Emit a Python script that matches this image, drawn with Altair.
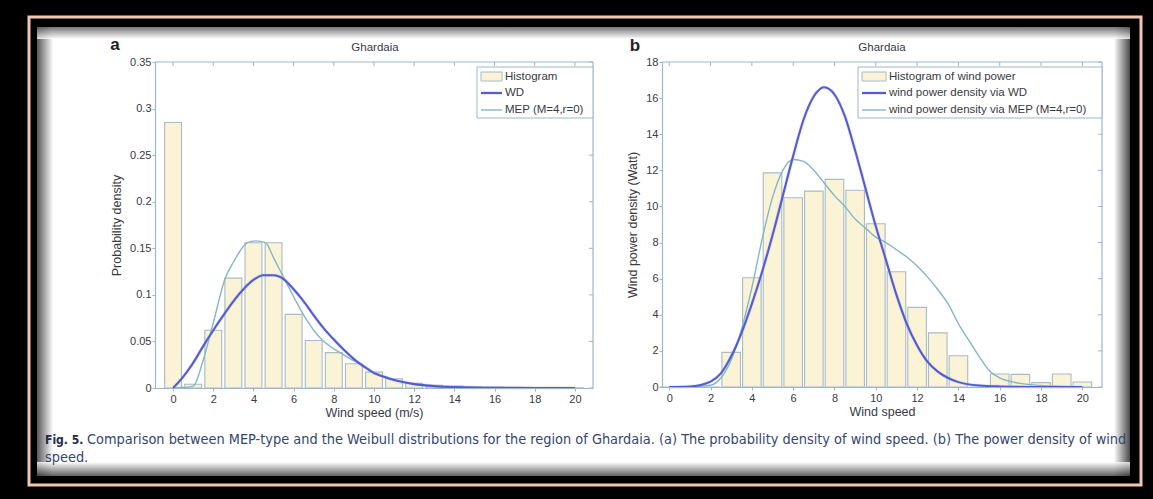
import altair as alt
import pandas as pd

W, H = 1153, 499

# ---------------- data ----------------
bins = list(range(0, 21))

# (a) probability density of wind speed
hist_a = [0.285, 0.004, 0.062, 0.118, 0.156, 0.156, 0.079, 0.051, 0.038, 0.026,
          0.017, 0.010, 0.005, 0.003, 0.002, 0.001, 0.001, 0.0005, 0.0005, 0.0003, 0.0002]

wd_a_x = [0, 0.5, 1, 1.5, 2, 2.5, 3, 3.5, 4, 4.5, 5, 5.5, 6, 6.5, 7, 7.5, 8, 8.5, 9, 9.5,
          10, 10.5, 11, 12, 13, 14, 15, 16, 18, 20]
wd_a_y = [0, 0.012, 0.027, 0.045, 0.062, 0.078, 0.093, 0.106, 0.116, 0.121, 0.121, 0.117,
          0.106, 0.093, 0.078, 0.064, 0.052, 0.041, 0.031, 0.023, 0.016, 0.012, 0.0085,
          0.0042, 0.002, 0.001, 0.0004, 0.0002, 0.00005, 0]

mep_a_x = [0, 0.5, 1.0, 1.5, 2.0, 2.6, 3.0, 3.7, 4.1, 4.6, 5.0, 5.4, 6.0, 6.4, 7.0, 7.4,
           8.0, 8.4, 9.0, 9.4, 10, 11, 12, 13, 14, 16, 18, 20]
mep_a_y = [0, 0.0005, 0.002, 0.03, 0.07, 0.118, 0.135, 0.156, 0.158, 0.156, 0.14, 0.123,
           0.098, 0.082, 0.062, 0.052, 0.042, 0.037, 0.029, 0.025, 0.017, 0.009, 0.004,
           0.002, 0.001, 0.0003, 0.0001, 0]

# (b) wind power density
hist_b = [0, 0, 0, 1.92, 6.05, 11.86, 10.48, 10.85, 11.5, 10.9, 9.04, 6.38, 4.41, 3.0,
          1.73, 0, 0.72, 0.70, 0.24, 0.72, 0.28]

wd_b_x = [0, 1, 2, 2.5, 3, 3.5, 4, 4.5, 5, 5.5, 6, 6.5, 7, 7.5, 8, 8.5, 9, 9.5, 10, 10.5,
          11, 11.5, 12, 12.5, 13, 13.5, 14, 15, 16, 18, 20]
wd_b_y = [0, 0.03, 0.3, 0.75, 1.7, 3.0, 4.6, 6.4, 8.4, 10.6, 12.8, 14.8, 16.1, 16.6, 16.2,
          15.0, 13.1, 11.0, 8.9, 7.0, 5.1, 3.5, 2.3, 1.4, 0.85, 0.5, 0.27, 0.08, 0.03, 0.0, 0]

mep_b_x = [0, 1, 2, 2.5, 3, 3.5, 4, 4.5, 5, 5.5, 6, 6.5, 7, 7.5, 8, 8.5, 9, 9.5, 10, 10.5,
           11, 11.5, 12, 12.5, 13, 13.5, 14, 14.5, 15, 15.5, 16, 17, 18, 19, 20]
mep_b_y = [0, 0.01, 0.1, 0.5, 1.5, 3.2, 5.5, 8.2, 10.5, 12.0, 12.6, 12.5, 12.0, 11.3, 10.6,
           10.0, 9.3, 8.8, 8.3, 8.0, 7.6, 7.2, 6.7, 6.1, 5.4, 4.6, 3.5, 2.6, 1.7, 0.9, 0.5,
           0.2, 0.08, 0.03, 0]

ticks_x = list(range(0, 21, 2))
ticks_ya = [0, 0.05, 0.1, 0.15, 0.2, 0.25, 0.3, 0.35]
ticks_yb = [0, 2, 4, 6, 8, 10, 12, 14, 16, 18]

legend_a = ["Histogram", "WD", "MEP (M=4,r=0)"]
legend_b = ["Histogram of wind power", "wind power density via WD",
            "wind power density via MEP (M=4,r=0)"]
panel_title = "Ghardaia"
caption_bold = "Fig. 5."
caption_1 = ("Comparison between MEP-type and the Weibull distributions for the region of "
             "Ghardaia. (a) The probability density of wind speed. (b) The power density of wind")
caption_2 = "speed."

# ---------------- styles ----------------
FONT = "Liberation Sans"
CAPFONT = "DejaVu Sans Condensed, Liberation Sans, sans-serif"
TXT = "#3a3a44"
AXC = "#9db6c9"
BAR_FILL = "#fbf3d6"
BAR_EDGE = "#a6bcc6"
BLUE = "#4a5fd8"
PINK = "#e9a6bb"
TEAL = "#86b6c6"


def hist_df(vals, half):
    d = pd.DataFrame({"c": bins, "v": vals})
    d["lo"] = d["c"] - half
    d["hi"] = d["c"] + half
    return d


df_ha = hist_df(hist_a, 0.42)
df_hb = hist_df(hist_b, 0.45)
df_wa = pd.DataFrame({"x": wd_a_x, "y": wd_a_y})
df_ma = pd.DataFrame({"x": mep_a_x, "y": mep_a_y})
df_wb = pd.DataFrame({"x": wd_b_x, "y": wd_b_y})
df_mb = pd.DataFrame({"x": mep_b_x, "y": mep_b_y})

one = pd.DataFrame({"k": [0]})

XA = alt.Scale(domain=[-0.9, 20.9], range=[155, 593], nice=False, zero=False)
YA = alt.Scale(domain=[0, 0.35], range=[388, 62], nice=False, zero=False)
XB = alt.Scale(domain=[-0.35, 20.95], range=[662, 1102], nice=False, zero=False)
YB = alt.Scale(domain=[0, 18], range=[387, 62], nice=False, zero=False)

common_axis = dict(grid=False, zindex=1, domainColor=AXC, domainWidth=1.2, tickColor=AXC,
                   tickSize=3, labelFont=FONT, labelFontSize=11, labelColor=TXT,
                   titleFont=FONT, titleFontSize=12.5, titleFontWeight="normal",
                   titleColor=TXT, labelFlush=False, labelOverlap=False)

AX_XA = alt.Axis(orient="bottom", offset=388 - H, values=ticks_x, title="Wind speed (m/s)",
                 labelPadding=2, titlePadding=2, **common_axis)
AX_YA = alt.Axis(orient="left", offset=-155, values=ticks_ya, format="~g",
                 title="Probability density", labelPadding=1, titlePadding=6, **common_axis)
AX_XB = alt.Axis(orient="bottom", offset=387 - H, values=ticks_x, title="Wind speed",
                 labelPadding=2, titlePadding=2, **common_axis)
AX_YB = alt.Axis(orient="left", offset=-662, values=ticks_yb, format="~g",
                 title="Wind power density (Watt)", labelPadding=1, titlePadding=6,
                 **common_axis)


def panel(df_h, df_w, df_m, XS, YS, AXX, AXY, tx, ty, top, right):
    bars = alt.Chart(df_h).mark_rect(fill=BAR_FILL, stroke=BAR_EDGE, strokeWidth=1.1).encode(
        x=alt.X("lo:Q", scale=XS, axis=AXX), x2="hi:Q",
        y=alt.Y("v:Q", scale=YS, axis=AXY), y2=alt.datum(0))
    halo = alt.Chart(df_w).mark_line(color=PINK, strokeWidth=3.6, opacity=0.3,
                                     interpolate="monotone").encode(
        x=alt.X("x:Q", scale=XS, axis=AXX), y=alt.Y("y:Q", scale=YS, axis=AXY))
    wd = alt.Chart(df_w).mark_line(color=BLUE, strokeWidth=2.1,
                                   interpolate="monotone").encode(
        x=alt.X("x:Q", scale=XS, axis=AXX), y=alt.Y("y:Q", scale=YS, axis=AXY))
    mep = alt.Chart(df_m).mark_line(color=TEAL, strokeWidth=1.4,
                                    interpolate="monotone").encode(
        x=alt.X("x:Q", scale=XS, axis=AXX), y=alt.Y("y:Q", scale=YS, axis=AXY))
    # mirrored (inward) ticks on top and right edges of the box
    top_ticks = alt.Chart(pd.DataFrame({"t": tx})).mark_rule(color=AXC, strokeWidth=1).encode(
        x=alt.X("t:Q", scale=XS, axis=AXX), y=alt.value(top), y2=alt.value(top + 4))
    right_ticks = alt.Chart(pd.DataFrame({"t": ty})).mark_rule(color=AXC, strokeWidth=1).encode(
        y=alt.Y("t:Q", scale=YS, axis=AXY), x=alt.value(right - 4), x2=alt.value(right))
    return alt.layer(bars, mep, halo, wd, top_ticks, right_ticks)


def rect(x, x2, y, y2, **kw):
    return alt.Chart(one).mark_rect(**kw).encode(
        x=alt.value(x), x2=alt.value(x2), y=alt.value(y), y2=alt.value(y2))


def hline(x, x2, y, color, width, opacity=1.0):
    return alt.Chart(one).mark_rule(color=color, strokeWidth=width, opacity=opacity).encode(
        x=alt.value(x), x2=alt.value(x2), y=alt.value(y))


def vline(x, y, y2, color, width):
    return alt.Chart(one).mark_rule(color=color, strokeWidth=width).encode(
        x=alt.value(x), y=alt.value(y), y2=alt.value(y2))


def text(s, x, y, size=10, weight="normal", align="left", color=TXT, font=FONT):
    return alt.Chart(one).mark_text(text=s, fontSize=size, fontWeight=weight, align=align,
                                    baseline="middle", color=color, font=font).encode(
        x=alt.value(x), y=alt.value(y))


def grad(c1, c2, horizontal=True):
    if horizontal:
        return alt.LinearGradient(gradient="linear", x1=0, x2=1, y1=0, y2=0,
                                  stops=[alt.GradientStop(color=c1, offset=0),
                                         alt.GradientStop(color=c2, offset=1)])
    return alt.LinearGradient(gradient="linear", x1=0, x2=0, y1=0, y2=1,
                              stops=[alt.GradientStop(color=c1, offset=0),
                                     alt.GradientStop(color=c2, offset=1)])


PX0, PX1, PY0, PY1 = 37, 1130, 27, 476

paper = rect(PX0, PX1, PY0, PY1, fill="white")

shadows = [
    rect(PX0, PX0 + 16, PY0, PY1, fill=grad("#3a3a3a", "#ffffff"), opacity=0.85),
    rect(PX1 - 16, PX1, PY0, PY1, fill=grad("#ffffff", "#2a2a2a"), opacity=0.85),
    rect(PX0, PX1, PY0, PY0 + 12, fill=grad("#555555", "#ffffff", False), opacity=0.8),
    rect(PX0, PX1, PY1 - 14, PY1, fill=grad("#ffffff", "#3a3a3a", False), opacity=0.8),
]

# box lines (top/right of MATLAB axes)
box_a = [hline(155, 593, 62, AXC, 1.2), vline(593, 62, 388, AXC, 1.2)]
box_b = [hline(662, 1102, 62, AXC, 1.2), vline(1102, 62, 387, AXC, 1.2)]

pa = panel(df_ha, df_wa, df_ma, XA, YA, AX_XA, AX_YA, ticks_x, ticks_ya, 62, 593)
pb = panel(df_hb, df_wb, df_mb, XB, YB, AX_XB, AX_YB, ticks_x, ticks_yb, 62, 1102)

LF = 11.5
leg_a = [
    rect(477, 593, 67, 118, fill="white", stroke=AXC, strokeWidth=1),
    rect(481, 502, 72, 81, fill=BAR_FILL, stroke=BAR_EDGE, strokeWidth=1),
    hline(481, 502, 93, PINK, 3.6, 0.3), hline(481, 502, 93, BLUE, 2.1),
    hline(481, 502, 110, TEAL, 1.4),
    text(legend_a[0], 505, 77, size=LF), text(legend_a[1], 505, 93, size=LF),
    text(legend_a[2], 505, 110, size=LF),
]
leg_b = [
    rect(858, 1102, 67, 118, fill="white", stroke=AXC, strokeWidth=1),
    rect(862, 886, 72, 81, fill=BAR_FILL, stroke=BAR_EDGE, strokeWidth=1),
    hline(862, 886, 93, PINK, 3.6, 0.3), hline(862, 886, 93, BLUE, 2.1),
    hline(862, 886, 110, TEAL, 1.4),
    text(legend_b[0], 889, 77, size=LF), text(legend_b[1], 889, 93, size=LF),
    text(legend_b[2], 889, 110, size=LF),
]

titles = [
    text(panel_title, 375, 48, size=11.5, align="center"),
    text(panel_title, 882, 48, size=11.5, align="center"),
    text("a", 115, 45, size=17, weight="bold", align="center", color="#222"),
    text("b", 635, 46, size=17, weight="bold", align="center", color="#222"),
]

caption = [
    text(caption_bold, 45, 440, size=12, weight="bold", color="#1f2c4c", font=CAPFONT),
    text(caption_1, 87, 440, size=14.4, color="#34466f", font=CAPFONT),
    text(caption_2, 45, 458, size=14.4, color="#34466f", font=CAPFONT),
]

frame = [
    rect(0, W, 0, PY0, fill="black"),
    rect(0, W, PY1, H, fill="black"),
    rect(0, PX0, 0, H, fill="black"),
    rect(PX1, W, 0, H, fill="black"),
    rect(29, 1141, 17, 485, fill="transparent", stroke="#f1c7b2", strokeWidth=3),
]

chart = alt.layer(
    paper, *shadows, pa, pb, *box_a, *box_b, *leg_a, *leg_b, *titles, *caption, *frame
).resolve_scale(x="independent", y="independent").properties(
    width=W, height=H, padding=0, autosize="none"
).configure(background="black").configure_view(stroke=None)

chart.save("out.html", embed_options={"renderer": "svg", "actions": False})
